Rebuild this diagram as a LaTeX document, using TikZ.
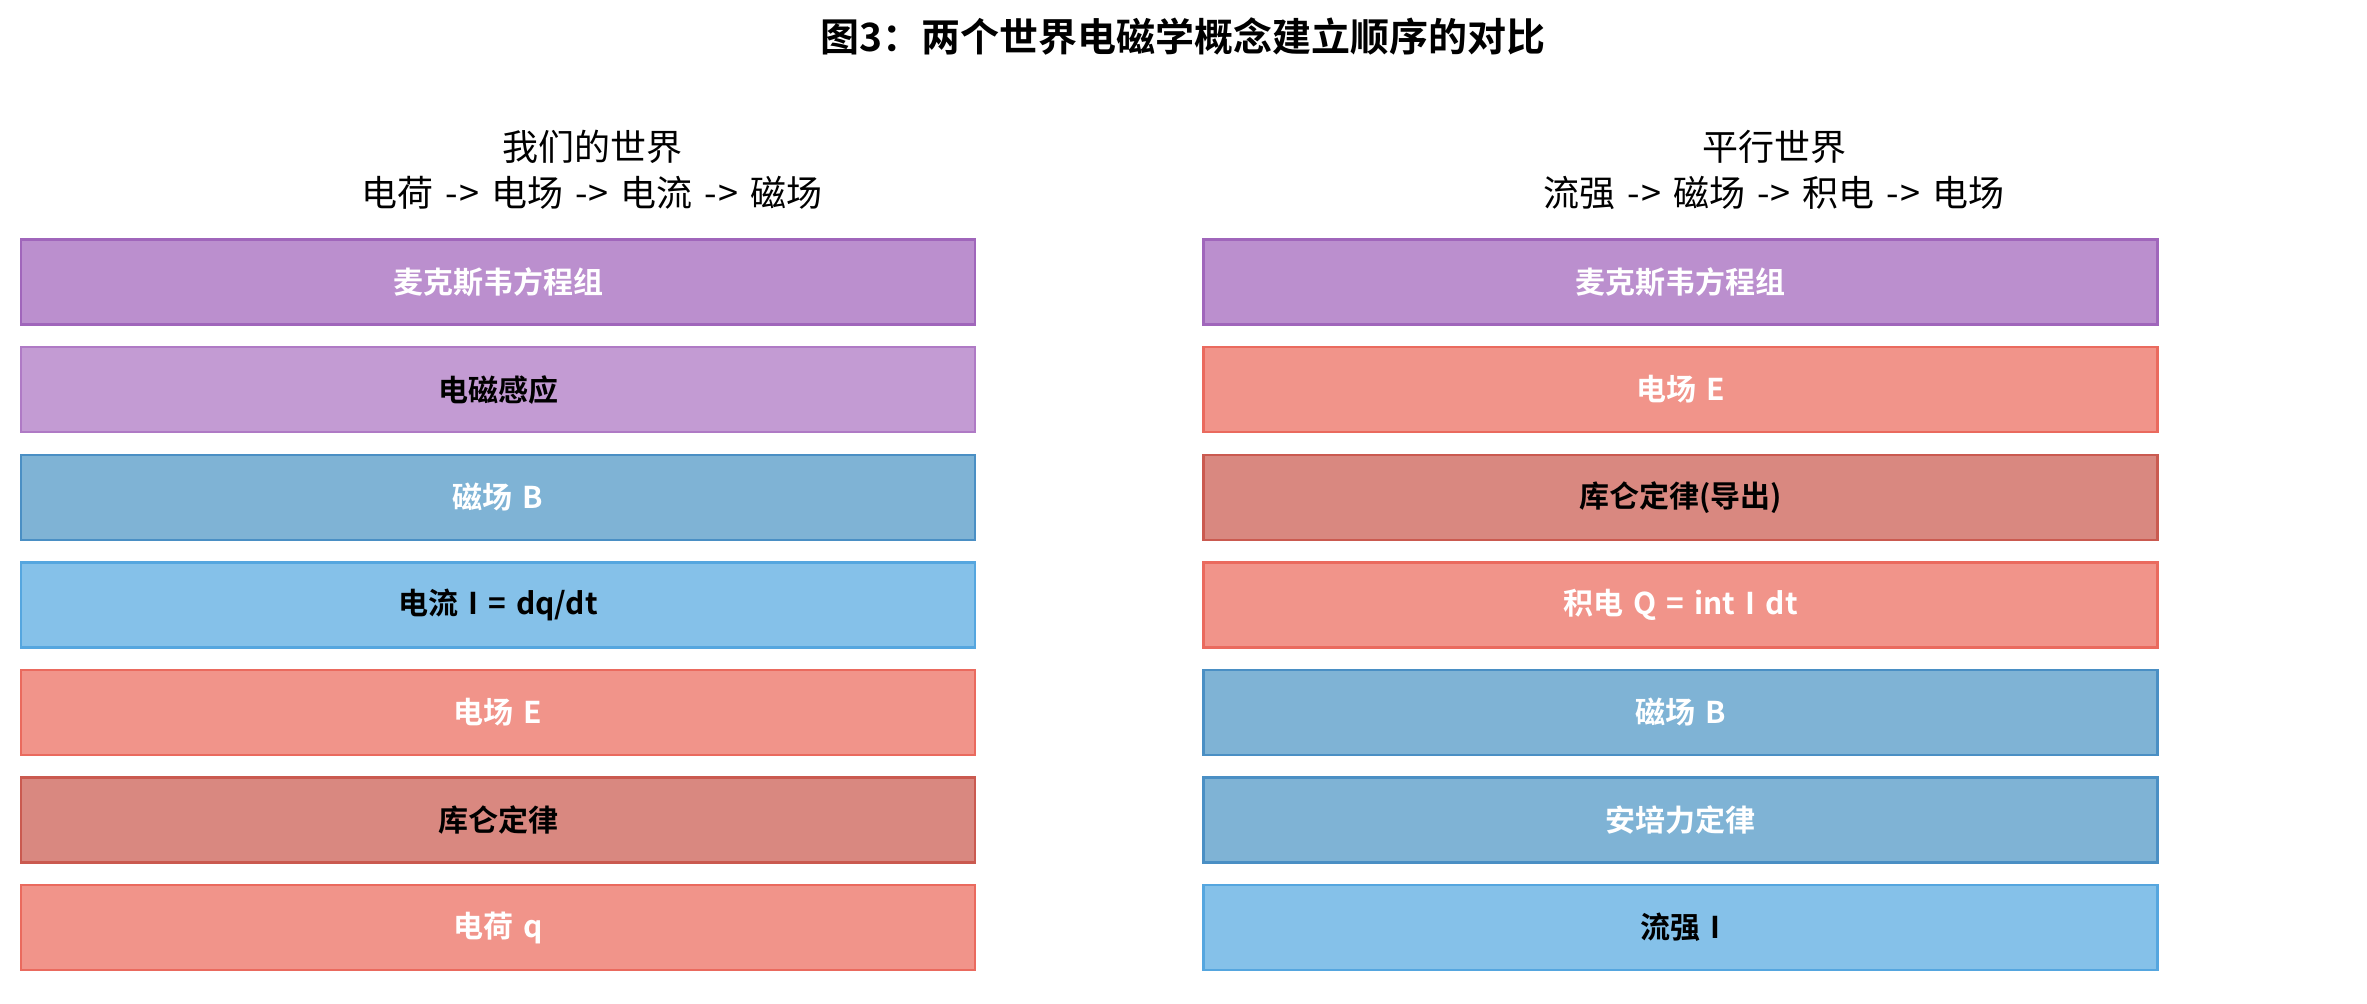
\documentclass[tikz,border=0pt]{standalone}
\usepackage{fontspec}
\setmainfont{Noto Sans CJK SC}[BoldFont={Noto Sans CJK SC Bold}, WordSpace=1.5]
\definecolor{pA}{HTML}{BB8FCE}\definecolor{pAe}{HTML}{A066BB}
\definecolor{pB}{HTML}{C39BD3}\definecolor{pBe}{HTML}{AF7AC5}
\definecolor{bA}{HTML}{7FB3D5}\definecolor{bAe}{HTML}{4A8FC4}
\definecolor{bB}{HTML}{85C1E9}\definecolor{bBe}{HTML}{55A6DF}
\definecolor{rA}{HTML}{F1948A}\definecolor{rAe}{HTML}{EA6A5E}
\definecolor{rB}{HTML}{D98880}\definecolor{rBe}{HTML}{CA5A50}
\tikzset{
  bar/.style={draw=#1e, fill=#1, line width=1.2pt, minimum width=477pt, minimum height=42.5pt,
    inner sep=0pt, font=\fontsize{15}{18}\selectfont\bfseries},
  wt/.style={text=white}, bt/.style={text=black},
  sub/.style={font=\fontsize{18}{22}\selectfont, inner sep=0pt},
}
\begin{document}
\begin{tikzpicture}[x=0.5pt,y=-0.5pt]
\useasboundingbox (0,0) rectangle (2367,1003);
\node[font=\fontsize{19.5}{23}\selectfont\bfseries, inner sep=0pt] (title) at (1183,36) {图3：两个世界电磁学概念建立顺序的对比};
\node[sub] (l1) at (592,147) {我们的世界};
\node[sub] (l2) at (592,193) {电荷 -\kern0.5pt> 电场 -\kern0.5pt> 电流 -\kern0.5pt> 磁场};
\node[sub] (r1) at (1774,147) {平行世界};
\node[sub] (r2) at (1774,193) {流强 -\kern0.5pt> 磁场 -\kern0.5pt> 积电 -\kern0.5pt> 电场};
% left column
\node[bar=pA, wt] (L1) at (498,282) {麦克斯韦方程组};
\node[bar=pB, bt] (L2) at (498,389.6) {电磁感应};
\node[bar=bA, wt] (L3) at (498,497.2) {磁场 B};
\node[bar=bB, bt] (L4) at (498,604.8) {电流 I = dq/dt};
\node[bar=rA, wt] (L5) at (498,712.4) {电场 E};
\node[bar=rB, bt] (L6) at (498,820) {库仑定律};
\node[bar=rA, wt] (L7) at (498,927.6) {电荷 q};
% right column
\node[bar=pA, wt] (R1) at (1680.5,282) {麦克斯韦方程组};
\node[bar=rA, wt] (R2) at (1680.5,389.6) {电场 E};
\node[bar=rB, bt] (R3) at (1680.5,497.2) {库仑定律(导出)};
\node[bar=rA, wt] (R4) at (1680.5,604.8) {积电 Q = int I dt};
\node[bar=bA, wt] (R5) at (1680.5,712.4) {磁场 B};
\node[bar=bA, wt] (R6) at (1680.5,820) {安培力定律};
\node[bar=bB, bt] (R7) at (1680.5,927.6) {流强 I};
\end{tikzpicture}
\end{document}
